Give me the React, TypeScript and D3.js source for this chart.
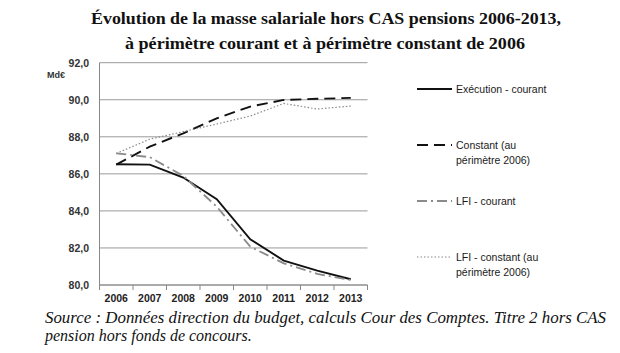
import * as d3 from 'd3';

const years = ['2006', '2007', '2008', '2009', '2010', '2011', '2012', '2013'];
const execCourant = [86.52, 86.5, 85.8, 84.63, 82.47, 81.32, 80.78, 80.31];
const constant2006 = [86.5, 87.47, 88.19, 89.0, 89.63, 89.99, 90.05, 90.1];
const lfiCourant = [87.11, 86.9, 85.89, 84.23, 82.07, 81.17, 80.6, 80.27];
const lfiConstant = [87.1, 87.87, 88.28, 88.69, 89.12, 89.8, 89.5, 89.66];
const yTicks = [80, 82, 84, 86, 88, 90, 92];

const series = [
  { name: ['Exécution - courant'], values: execCourant, stroke: '#111', width: 1.9, dash: '' },
  { name: ['Constant (au', 'périmètre 2006)'], values: constant2006, stroke: '#111', width: 1.9, dash: '11,6' },
  { name: ['LFI - courant'], values: lfiCourant, stroke: '#8a8a8a', width: 1.8, dash: '10,4,2,4' },
  { name: ['LFI - constant (au', 'périmètre 2006)'], values: lfiConstant, stroke: '#8a8a8a', width: 1.2, dash: '1.5,2' },
];
const legendY = [89, 145, 201, 257];

const left = 99.5;
const right = 367.5;
const top = 62.7;
const bottom = 285;

export default function App() {
  const x = d3.scaleBand().domain(years).range([left, right]);
  const y = d3.scaleLinear().domain([80, 92]).range([bottom, top]);
  const line = d3
    .line<number>()
    .x((_, i) => (x(years[i]) ?? 0) + x.bandwidth() / 2)
    .y((v) => y(v));
  const sans = '"Liberation Sans", Arial, sans-serif';
  const serif = '"Liberation Serif", "Times New Roman", serif';

  return (
    <svg width={620} height={353} style={{ position: 'absolute', left: 0, top: 0, background: '#fff' }}>
      <rect width={620} height={353} fill="#fff" />
      <text x={91} y={24} textLength={470} lengthAdjust="spacingAndGlyphs" fontFamily={serif} fontWeight="bold" fontSize={17.5} fill="#111">
        Évolution de la masse salariale hors CAS pensions 2006-2013,
      </text>
      <text x={125} y={49} textLength={400} lengthAdjust="spacingAndGlyphs" fontFamily={serif} fontWeight="bold" fontSize={17.5} fill="#111">
        à périmètre courant et à périmètre constant de 2006
      </text>

      {yTicks.map((t) => (
        <g key={t}>
          <line x1={left} x2={right} y1={y(t)} y2={y(t)} stroke="#9a9a9a" strokeWidth={1} />
          <text x={89} y={y(t) + 4} textAnchor="end" fontFamily={sans} fontWeight="bold" fontSize={10.5} fill="#333">
            {d3.format('.1f')(t).replace('.', ',')}
          </text>
        </g>
      ))}
      <text x={47} y={78} fontFamily={sans} fontWeight="bold" fontSize={9} fill="#333">Md€</text>

      <line x1={left} x2={left} y1={top} y2={bottom} stroke="#888" strokeWidth={1} />
      <line x1={left} x2={right} y1={bottom} y2={bottom} stroke="#888" strokeWidth={1} />
      {years.map((yr) => (
        <g key={yr}>
          <line x1={(x(yr) ?? 0) + x.bandwidth()} x2={(x(yr) ?? 0) + x.bandwidth()} y1={bottom} y2={bottom + 5} stroke="#888" />
          <text x={(x(yr) ?? 0) + x.bandwidth() / 2} y={302} textAnchor="middle" fontFamily={sans} fontWeight="bold" fontSize={10.5} fill="#222">
            {yr}
          </text>
        </g>
      ))}
      <line x1={left} x2={left} y1={bottom} y2={bottom + 5} stroke="#888" />

      {series.map((s) => (
        <path key={s.name[0]} d={line(s.values) || ''} fill="none" stroke={s.stroke} strokeWidth={s.width} strokeDasharray={s.dash} />
      ))}

      {series.map((s, i) => (
        <g key={s.name[0]}>
          <line x1={417} x2={452} y1={legendY[i]} y2={legendY[i]} stroke={s.stroke} strokeWidth={s.width} strokeDasharray={s.dash} />
          {s.name.map((n, j) => (
            <text key={n} x={456} y={legendY[i] + 4 + j * 15} fontFamily={sans} fontSize={10.5} fill="#1a1a1a">
              {n}
            </text>
          ))}
        </g>
      ))}

      <text x={45} y={323} textLength={561} lengthAdjust="spacingAndGlyphs" fontFamily={serif} fontStyle="italic" fontSize={16} fill="#111">
        Source : Données direction du budget, calculs Cour des Comptes. Titre 2 hors CAS
      </text>
      <text x={45} y={341} fontFamily={serif} fontStyle="italic" fontSize={16} fill="#111">
        pension hors fonds de concours.
      </text>
    </svg>
  );
}
